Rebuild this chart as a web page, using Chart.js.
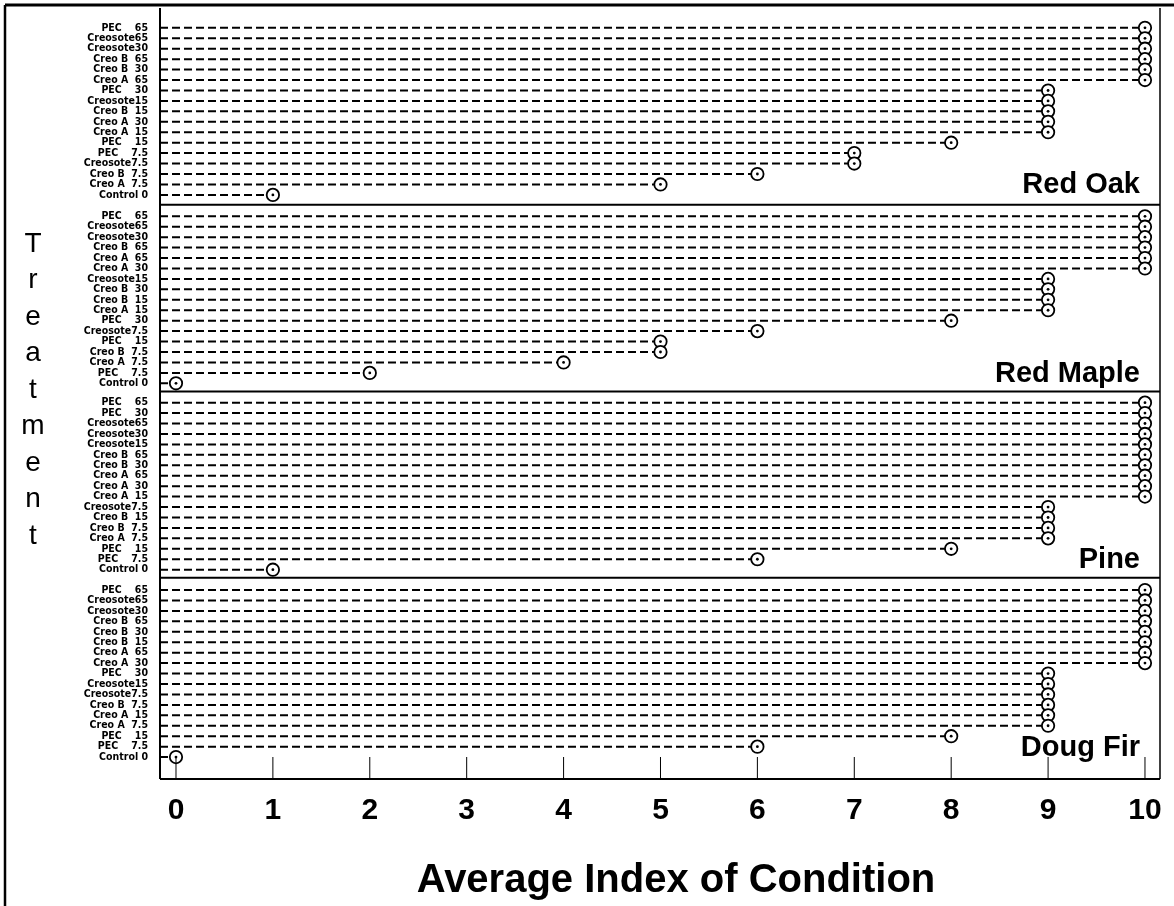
<!DOCTYPE html>
<html><head><meta charset="utf-8">
<script src="https://cdn.jsdelivr.net/npm/chart.js@4"></script>
<style>html,body{margin:0;padding:0;background:#fff;}canvas{display:block;}</style>
</head><body>
<canvas id="c" width="1174" height="906"></canvas>
<script>
// ---------- DATA ----------
const panelNames = ["Red Oak", "Red Maple", "Pine", "Doug Fir"];

const redOakTreatments = ["PEC    65","Creosote65","Creosote30","Creo B  65","Creo B  30","Creo A  65","PEC    30","Creosote15","Creo B  15","Creo A  30","Creo A  15","PEC    15","PEC    7.5","Creosote7.5","Creo B  7.5","Creo A  7.5","Control 0"];
const redOakValues = [10,10,10,10,10,10,9,9,9,9,9,8,7,7,6,5,1];

const redMapleTreatments = ["PEC    65","Creosote65","Creosote30","Creo B  65","Creo A  65","Creo A  30","Creosote15","Creo B  30","Creo B  15","Creo A  15","PEC    30","Creosote7.5","PEC    15","Creo B  7.5","Creo A  7.5","PEC    7.5","Control 0"];
const redMapleValues = [10,10,10,10,10,10,9,9,9,9,8,6,5,5,4,2,0];

const pineTreatments = ["PEC    65","PEC    30","Creosote65","Creosote30","Creosote15","Creo B  65","Creo B  30","Creo A  65","Creo A  30","Creo A  15","Creosote7.5","Creo B  15","Creo B  7.5","Creo A  7.5","PEC    15","PEC    7.5","Control 0"];
const pineValues = [10,10,10,10,10,10,10,10,10,10,9,9,9,9,8,6,1];

const dougFirTreatments = ["PEC    65","Creosote65","Creosote30","Creo B  65","Creo B  30","Creo B  15","Creo A  65","Creo A  30","PEC    30","Creosote15","Creosote7.5","Creo B  7.5","Creo A  15","Creo A  7.5","PEC    15","PEC    7.5","Control 0"];
const dougFirValues = [10,10,10,10,10,10,10,10,9,9,9,9,9,9,8,6,0];

const xTickValues = [0,1,2,3,4,5,6,7,8,9,10];
const xAxisTitle = "Average Index of Condition";
const yAxisTitle = "Treatment";

// ---------- LAYOUT ----------
const X_MIN = -0.165, X_MAX = 10.155;
const Y_MIN = 0, Y_MAX = 73.85;
const panelBase = [55.95, 37.9, 20.05, 2.1];
const panelSeps = [55.0, 37.12, 19.27];

const panels = [
  {labels: redOakTreatments, values: redOakValues},
  {labels: redMapleTreatments, values: redMapleValues},
  {labels: pineTreatments, values: pineValues},
  {labels: dougFirTreatments, values: dougFirValues}
];

const datasets = [];
const rowTicks = [];
panels.forEach((p, pi) => {
  const n = p.labels.length;
  const pts = p.values.map((v, i) => ({x: v, y: panelBase[pi] + (n - 1 - i)}));
  p.labels.forEach((lab, i) => rowTicks.push({value: panelBase[pi] + (n - 1 - i), label: lab}));
  pts.forEach(pt => datasets.push({
    data: [{x: X_MIN, y: pt.y}, {x: pt.x, y: pt.y}],
    showLine: true, borderColor: '#000', borderWidth: 2, borderDash: [8, 4],
    pointRadius: 0, order: 2
  }));
  datasets.push({data: pts, pointRadius: 6.2, pointBorderWidth: 1.8,
    pointBackgroundColor: '#fff', pointBorderColor: '#000', order: 1});
  datasets.push({data: pts, pointRadius: 1.4, pointBorderWidth: 0,
    pointBackgroundColor: '#000', pointBorderColor: '#000', order: 0});
});
rowTicks.sort((a, b) => a.value - b.value);

const decor = {
  id: 'decor',
  afterDraw(chart) {
    const {ctx, chartArea: a, scales: {x, y}} = chart;
    ctx.save();
    ctx.strokeStyle = '#000';
    ctx.fillStyle = '#000';
    const ln = (x1, y1, x2, y2, w) => { ctx.lineWidth = w; ctx.beginPath(); ctx.moveTo(x1, y1); ctx.lineTo(x2, y2); ctx.stroke(); };
    // outer frame
    ln(5, 5, 1174, 5, 3);
    ln(5, 5, 5, 906, 2.5);
    // plot box
    ln(a.left, a.top, a.left, a.bottom, 2);
    ln(a.right, a.top, a.right, a.bottom, 1.5);
    ln(a.left, a.bottom, a.right, a.bottom, 2);
    panelSeps.forEach(s => { const py = y.getPixelForValue(s); ln(a.left, py, a.right, py, 2); });
    // inward x ticks
    xTickValues.forEach(t => { const px = x.getPixelForValue(t); ln(px, a.bottom, px, a.bottom - 22, 1); });
    // panel names
    ctx.font = 'bold 29px "Liberation Sans", Arial, sans-serif';
    ctx.textAlign = 'right'; ctx.textBaseline = 'middle';
    panelNames.forEach((nm, i) => ctx.fillText(nm, a.right - 20, y.getPixelForValue(panelBase[i] + 0.9)));
    // x axis title
    ctx.font = 'bold 40px "Liberation Sans", Arial, sans-serif';
    ctx.textAlign = 'center';
    ctx.fillText(xAxisTitle, (a.left + a.right) / 2 + 16, 881);
    // y axis title, stacked letters
    ctx.font = '28px "Liberation Sans", Arial, sans-serif';
    yAxisTitle.split('').forEach((ch, i) => ctx.fillText(ch, 33, 244 + i * 36.5));
    ctx.restore();
  }
};

new Chart(document.getElementById('c'), {
  type: 'scatter',
  data: {datasets},
  options: {
    responsive: false, animation: false, events: [],
    layout: {padding: {top: 5, right: 14, left: 0, bottom: 0}},
    plugins: {legend: {display: false}, tooltip: {enabled: false}},
    scales: {
      x: {
        type: 'linear', min: X_MIN, max: X_MAX,
        afterBuildTicks: s => { s.ticks = xTickValues.map(v => ({value: v})); },
        afterFit: s => { s.height = 127; s.paddingLeft = 0; s.paddingRight = 0; },
        grid: {display: false, drawTicks: false}, border: {display: false},
        ticks: {color: '#000', padding: 14, font: {family: '"Liberation Sans", Arial, sans-serif', size: 30, weight: 'bold'}, autoSkip: false, maxRotation: 0}
      },
      y: {
        type: 'linear', min: Y_MIN, max: Y_MAX,
        afterBuildTicks: s => { s.ticks = rowTicks.map(t => ({value: t.value})); },
        afterFit: s => { s.width = 160; s.paddingTop = 0; s.paddingBottom = 0; },
        grid: {display: false, drawTicks: false}, border: {display: false},
        ticks: {color: '#000', padding: 12, autoSkip: false,
          font: {family: '"Liberation Sans Narrow", "DejaVu Sans Condensed", "Liberation Sans", sans-serif', size: 10.5, weight: 'bold', lineHeight: 1},
          callback: (v, i) => rowTicks[i] ? rowTicks[i].label : ''}
      }
    }
  },
  plugins: [decor]
});
</script>
</body></html>
